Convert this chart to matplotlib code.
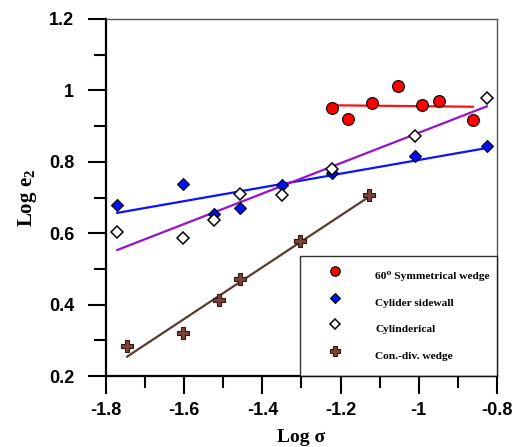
import numpy as np
from matplotlib import pyplot as plt
from matplotlib.ticker import MultipleLocator

# 60 deg symmetrical wedge
sym_x = [-1.223, -1.182, -1.120, -1.053, -0.993, -0.949, -0.862]
sym_y = [0.952, 0.921, 0.964, 1.012, 0.959, 0.970, 0.917]

# cylinder sidewall
side_x = [-1.771, -1.604, -1.524, -1.458, -1.349, -1.223, -1.010, -0.826]
side_y = [0.680, 0.739, 0.655, 0.670, 0.735, 0.770, 0.816, 0.845]

# cylindrical
cyl_x = [-1.771, -1.604, -1.524, -1.458, -1.349, -1.223, -1.010, -0.826]
cyl_y = [0.602, 0.587, 0.637, 0.709, 0.708, 0.779, 0.871, 0.980]

# convergent-divergent wedge
cd_x = [-1.746, -1.603, -1.510, -1.456, -1.304, -1.128]
cd_y = [0.285, 0.320, 0.413, 0.473, 0.578, 0.708]

plt.rcParams['font.family'] = ['Liberation Sans', 'DejaVu Sans']
serif = ['Liberation Serif', 'DejaVu Serif']

fig = plt.figure(figsize=(5.15, 4.47), dpi=100)
ax = fig.add_axes([0.2058, 0.1588, 0.7592, 0.7987])

def trend(x, y, color):
    k, b = np.polyfit(x, y, 1)
    xs = np.array([min(x), max(x)])
    ax.plot(xs, k * xs + b, color=color, lw=1.6, zorder=2)

trend(sym_x, sym_y, '#ff1010')
trend(side_x, side_y, '#0a14ff')
trend(cyl_x, cyl_y, '#9a10d0')
trend(cd_x, cd_y, '#5a3a30')

ax.plot(sym_x, sym_y, 'o', ms=8.5, mfc='#ff0000', mec='black', mew=0.8, ls='none',
        zorder=3, label='60⁰ Symmetrical wedge')
ax.plot(side_x, side_y, 'D', ms=6.5, mfc='#0010f0', mec='black', mew=0.8, ls='none',
        zorder=3, label='Cylider sidewall')
ax.plot(cyl_x, cyl_y, 'D', ms=6, mfc='white', mec='black', mew=1.1, ls='none',
        zorder=4, label='Cylinderical')
ax.plot(cd_x, cd_y, 'P', ms=9, mfc='#7a4438', mec='#2a1a15', mew=0.8, ls='none',
        zorder=3, label='Con.-div. wedge')

ax.set_xlim(-1.8, -0.8)
ax.set_ylim(0.2, 1.2)
ax.xaxis.set_minor_locator(MultipleLocator(0.1))
ax.yaxis.set_minor_locator(MultipleLocator(0.1))
ax.set_xticks(np.arange(-1.8, -0.79, 0.2))
ax.set_xticklabels(['-1.8', '-1.6', '-1.4', '-1.2', '-1', '-0.8'])
ax.set_yticks(np.arange(0.2, 1.21, 0.2))
ax.set_yticklabels(['0.2', '0.4', '0.6', '0.8', '1', '1.2'])

ax.tick_params(which='both', direction='out', width=1.5, top=False, right=False)
ax.tick_params(which='major', length=13, labelsize=13)
ax.tick_params(which='minor', length=8.6)
ax.tick_params(axis='x', which='major', pad=6)
ax.tick_params(axis='y', which='major', pad=10)
for lab in ax.get_xticklabels() + ax.get_yticklabels():
    lab.set_fontweight('bold')

for s in ['left', 'bottom']:
    ax.spines[s].set_linewidth(1.6)
for s in ['top', 'right']:
    ax.spines[s].set_linewidth(1.0)
    ax.spines[s].set_color('#555555')

ax.set_xlabel('Log σ', family=serif, fontweight='bold', fontsize=14, labelpad=7)
ax.set_ylabel('Log e$_{\\mathregular{2}}$', family=serif, fontweight='bold',
              fontsize=15, labelpad=7)

leg = ax.legend(loc='lower right', borderaxespad=0, frameon=True, fancybox=False,
                prop={'family': serif, 'weight': 'bold', 'size': 8.2},
                borderpad=0.63, handlelength=5.0, handletextpad=1.0,
                handleheight=3.2, labelspacing=0.0, markerscale=0.8)
leg.get_frame().set_edgecolor('black')
leg.get_frame().set_linewidth(1.0)

fig.savefig('out.png', dpi=100)
